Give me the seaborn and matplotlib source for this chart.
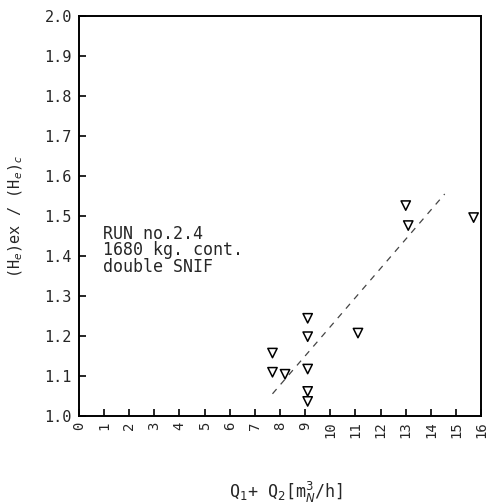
import numpy as np
import pandas as pd
import matplotlib
matplotlib.use('Agg')
import matplotlib.pyplot as plt
import seaborn as sns

# ===== DONNEES =====
q_total = [7.7, 7.7, 8.2, 9.1, 9.1, 9.1, 9.1, 9.1, 11.1, 13.0, 13.1, 15.7]
he_ratio = [1.157, 1.109, 1.104, 1.244, 1.198, 1.117, 1.061, 1.036, 1.207, 1.526, 1.476, 1.496]

line_x = [7.7, 14.55]
line_y = [1.055, 1.555]

x_ticks = list(range(0, 17))
y_ticks = [1.0, 1.1, 1.2, 1.3, 1.4, 1.5, 1.6, 1.7, 1.8, 1.9, 2.0]

df = pd.DataFrame({'q': q_total, 'ratio': he_ratio})
df_line = pd.DataFrame({'q': line_x, 'ratio': line_y})

# ===== STYLE =====
sns.set_style('ticks')
plt.rcParams['font.family'] = ['DejaVu Sans Mono']
plt.rcParams['mathtext.fontset'] = 'dejavusans'

fig = plt.figure(figsize=(4.87, 5.04), dpi=100)
ax = fig.add_axes([0.162, 0.175, 0.826, 0.793])

sns.scatterplot(data=df, x='q', y='ratio', marker='v', s=45,
                facecolor='none', edgecolor='black', linewidth=1.1, ax=ax)
sns.lineplot(data=df_line, x='q', y='ratio', color='#444444', linestyle=(0, (5, 5)),
             linewidth=0.9, ax=ax)

ax.set_xlim(0, 16)
ax.set_ylim(1.0, 2.0)
ax.set_xticks(x_ticks)
ax.set_xticklabels([str(t) for t in x_ticks], rotation=90, fontsize=10)
ax.set_yticks(y_ticks)
ax.set_yticklabels([f'{t:.1f}' for t in y_ticks], fontsize=11)
ax.tick_params(direction='in', length=5, width=1.2, color='black')
ax.tick_params(axis='x', pad=4)
ax.tick_params(axis='y', pad=5)

for sp in ax.spines.values():
    sp.set_linewidth(1.4)
    sp.set_color('black')
    sp.set_visible(True)

ax.set_xlabel(r'Q$_1$+ Q$_2$[m$^3_N$/h]', fontsize=12)
ax.xaxis.set_label_coords(0.515, -0.16)
ax.set_ylabel(r'(H$_e$)ex / (H$_e$)$_c$', fontsize=11)
ax.yaxis.set_label_coords(-0.135, 0.5)

ax.text(0.96, 1.478, 'RUN no.2.4\n1680 kg. cont.\ndouble SNIF', fontsize=12,
        va='top', ha='left', linespacing=0.9)

plt.savefig('out.png', dpi=100)
